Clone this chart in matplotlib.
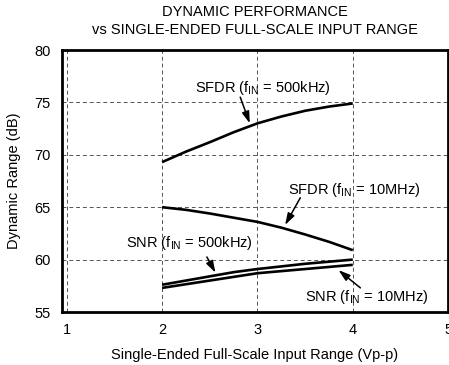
import matplotlib
matplotlib.use("Agg")
import matplotlib.pyplot as plt

plt.rcParams['font.family'] = ['Liberation Sans', 'DejaVu Sans']

x_vals = [2.0, 2.25, 2.5, 2.75, 3.0, 3.25, 3.5, 3.75, 4.0]
sfdr_500k = [69.3, 70.3, 71.2, 72.15, 73.0, 73.65, 74.2, 74.6, 74.9]
sfdr_10m = [65.0, 64.75, 64.4, 64.0, 63.6, 63.05, 62.4, 61.7, 60.9]
snr_500k = [57.6, 58.0, 58.4, 58.8, 59.1, 59.35, 59.6, 59.8, 60.0]
snr_10m = [57.3, 57.65, 58.0, 58.35, 58.7, 58.9, 59.1, 59.3, 59.5]

x_ticks = [1, 2, 3, 4, 5]
y_ticks = [55, 60, 65, 70, 75, 80]

fig = plt.figure(figsize=(4.49, 3.65), dpi=100)
ax = fig.add_axes([0.138, 0.1452, 0.860, 0.7178])

for s in [sfdr_500k, sfdr_10m, snr_500k, snr_10m]:
    ax.plot(x_vals, s, color='black', lw=1.9, solid_capstyle='butt')

ax.set_xlim(0.95, 5)
ax.set_ylim(55, 80)
ax.set_xticks(x_ticks)
ax.set_yticks(y_ticks)
ax.tick_params(length=0, labelsize=10.5, pad=8)
ax.grid(True, color='#555555', lw=0.7, ls=(0, (4, 3)))
for sp in ax.spines.values():
    sp.set_linewidth(2)

ax.set_xlabel('Single-Ended Full-Scale Input Range (Vp-p)', fontsize=10.5, labelpad=8)
ax.set_ylabel('Dynamic Range (dB)', fontsize=10.5, labelpad=10)
fig.text(0.568, 0.985, 'DYNAMIC PERFORMANCE\nvs SINGLE-ENDED FULL-SCALE INPUT RANGE',
         fontsize=10.5, ha='center', va='top', linespacing=1.3)

ap = dict(arrowstyle='-|>,head_length=0.7,head_width=0.22', color='black', lw=1.1,
          shrinkA=0, shrinkB=0)
labels = [
    (r'SFDR (f$_{\mathregular{IN}}$ = 500kHz)', (3.06, 76.4), (2.82, 75.5), (2.92, 73.0)),
    (r'SFDR (f$_{\mathregular{IN}}$ = 10MHz)', (4.02, 66.6), (3.45, 65.9), (3.29, 63.3)),
    (r'SNR (f$_{\mathregular{IN}}$ = 500kHz)', (2.29, 61.6), (2.47, 60.25), (2.56, 58.75)),
    (r'SNR (f$_{\mathregular{IN}}$ = 10MHz)', (4.15, 56.4), (4.08, 57.3), (3.85, 59.0)),
]
for txt, pos, start, tip in labels:
    ax.text(pos[0], pos[1], txt, fontsize=10.5, ha='center', va='center')
    ax.annotate('', xy=tip, xytext=start, arrowprops=ap)

fig.savefig('out.png', dpi=100)
